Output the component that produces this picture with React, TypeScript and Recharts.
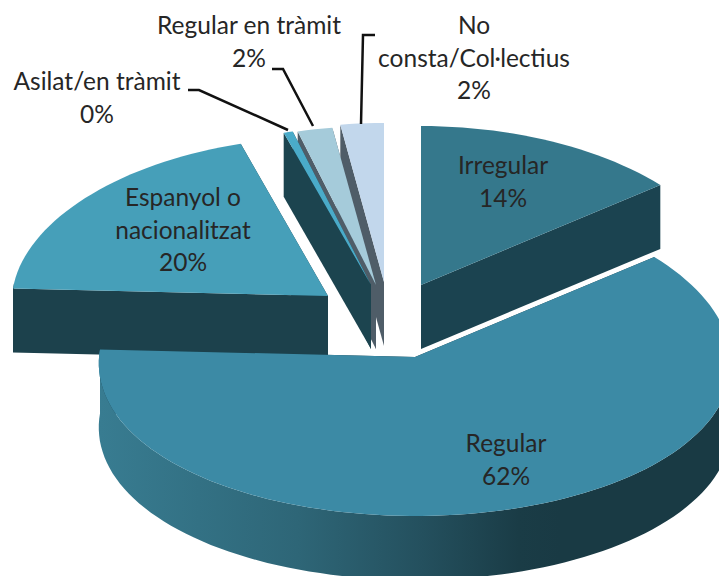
import { PieChart, Pie } from 'recharts'

// Listed counter-clockwise from 12 o'clock, so Regular paints over its neighbours
const categories = ['No consta/Col·lectius', 'Regular en tràmit', 'Asilat/en tràmit', 'Espanyol o nacionalitzat', 'Regular', 'Irregular']
const shares = [2.3, 1.85, 0.49, 19.6, 61.6, 14.16]

const labelLines = [['No', 'consta/Col·lectius'], ['Regular en tràmit'], ['Asilat/en tràmit'], ['Espanyol o', 'nacionalitzat'], ['Regular'], ['Irregular']]

const topColors = ['#c2d7ec', '#a5cbda', '#4aabc9', '#469fb9', '#3c8aa5', '#35788c']
const faceColors = ['#4f5d68', '#4f5d68', '#1c444f', '#1c414c', '#1b3e48', '#1b4350']

// Explosion of each slice and where its label sits
const explode = [[-34, -38], [-42, -35], [-47, -35], [-90, -24], [-3, 37], [3, -35]]
const labelPos = [[474, 28], [249, 28], [97, 84], [183, 200], [506, 446], [503, 168]]
const leaderLines = [
  '375,35 363,35 361,124',
  '272,69 283,69 313,126',
  '188,90 199,90 288,130',
  '', '', '',
]

const SQUASH = 0.503
const DEPTH = 64
const LINE_HEIGHT = 32.5
const FONT = 'Lato, sans-serif'

const pieData = categories.map((name, idx) => ({ name, value: shares[idx], idx }))

function SliceShape(props: any) {
  const { cx, cy, outerRadius, startAngle, endAngle, payload } = props
  const idx = payload?.idx ?? props.idx
  const ox = cx + explode[idx][0]
  const oy = cy + explode[idx][1]

  const project = (deg: number, dz = 0) => {
    const a = (deg * Math.PI) / 180
    const u = Math.cos(a)
    const v = Math.sin(a)
    // back of the pie is a bit narrower than the front
    return [ox + outerRadius * u * (1 - 0.04 * v), oy - outerRadius * SQUASH * v + dz]
  }
  const pts = (list: number[][]) => list.map(p => `${p[0].toFixed(1)},${p[1].toFixed(1)}`).join(' ')

  const arc: number[] = []
  const steps = Math.max(4, Math.ceil(Math.abs(endAngle - startAngle) / 2))
  for (let i = 0; i <= steps; i++) arc.push(startAngle + ((endAngle - startAngle) * i) / steps)

  const a0 = project(startAngle)
  const a1 = project(endAngle)
  const a0b = project(startAngle, DEPTH)
  const a1b = project(endAngle, DEPTH)
  const apex = [ox, oy]
  const apexB = [ox, oy + DEPTH]

  const front = arc.filter(d => Math.sin((d * Math.PI) / 180) < 0.1)
  const rim = front.length > 1
    ? [...front.map(d => project(d)), ...[...front].reverse().map(d => project(d, DEPTH))]
    : null

  return (
    <g>
      <defs>
        <linearGradient id="rimShade" gradientUnits="userSpaceOnUse" x1="100" y1="0" x2="560" y2="0">
          <stop offset="0" stopColor="#387c91" />
          <stop offset="0.43" stopColor="#2e6677" />
          <stop offset="0.7" stopColor="#24505e" />
          <stop offset="0.91" stopColor="#1a3c46" />
          <stop offset="1" stopColor="#193a44" />
        </linearGradient>
      </defs>
      <polygon points={pts([apex, a0, a0b, apexB])} fill={faceColors[idx]} />
      <polygon points={pts([apex, a1, a1b, apexB])} fill={faceColors[idx]} />
      {rim && <polygon points={pts(rim)} fill={idx === 4 ? 'url(#rimShade)' : faceColors[idx]} />}
      <polygon points={pts([apex, ...arc.map(d => project(d))])} fill={topColors[idx]} />
    </g>
  )
}

function SliceLabel(props: any) {
  const { percent, payload } = props
  const idx = payload?.idx ?? props.idx
  const [x, y] = labelPos[idx]
  const lines = [...labelLines[idx], `${Math.round(percent * 100)}%`]
  return (
    <text textAnchor="middle" fontFamily={FONT} fontSize={24.5} fill="#262626">
      {lines.map((line, i) => (
        <tspan key={i} x={x} y={y + i * LINE_HEIGHT} dominantBaseline="middle">{line}</tspan>
      ))}
    </text>
  )
}

function LeaderLine(props: any) {
  const idx = props.payload?.idx ?? props.idx
  if (!leaderLines[idx]) return <g />
  return <polyline points={leaderLines[idx]} fill="none" stroke="#111" strokeWidth={2.5} />
}

export default function App() {
  return (
    <div style={{ position: 'absolute', left: 0, top: 0, width: 719, height: 576, overflow: 'hidden', background: '#fff' }}>
      <PieChart width={719} height={576} margin={{ top: 0, right: 0, bottom: 0, left: 0 }}>
        <Pie
          data={pieData}
          dataKey="value"
          nameKey="name"
          cx={418}
          cy={320}
          innerRadius={0}
          outerRadius={316}
          startAngle={90}
          endAngle={450}
          stroke="none"
          shape={SliceShape}
          label={SliceLabel}
          labelLine={LeaderLine}
          isAnimationActive={false}
        />
      </PieChart>
    </div>
  )
}
